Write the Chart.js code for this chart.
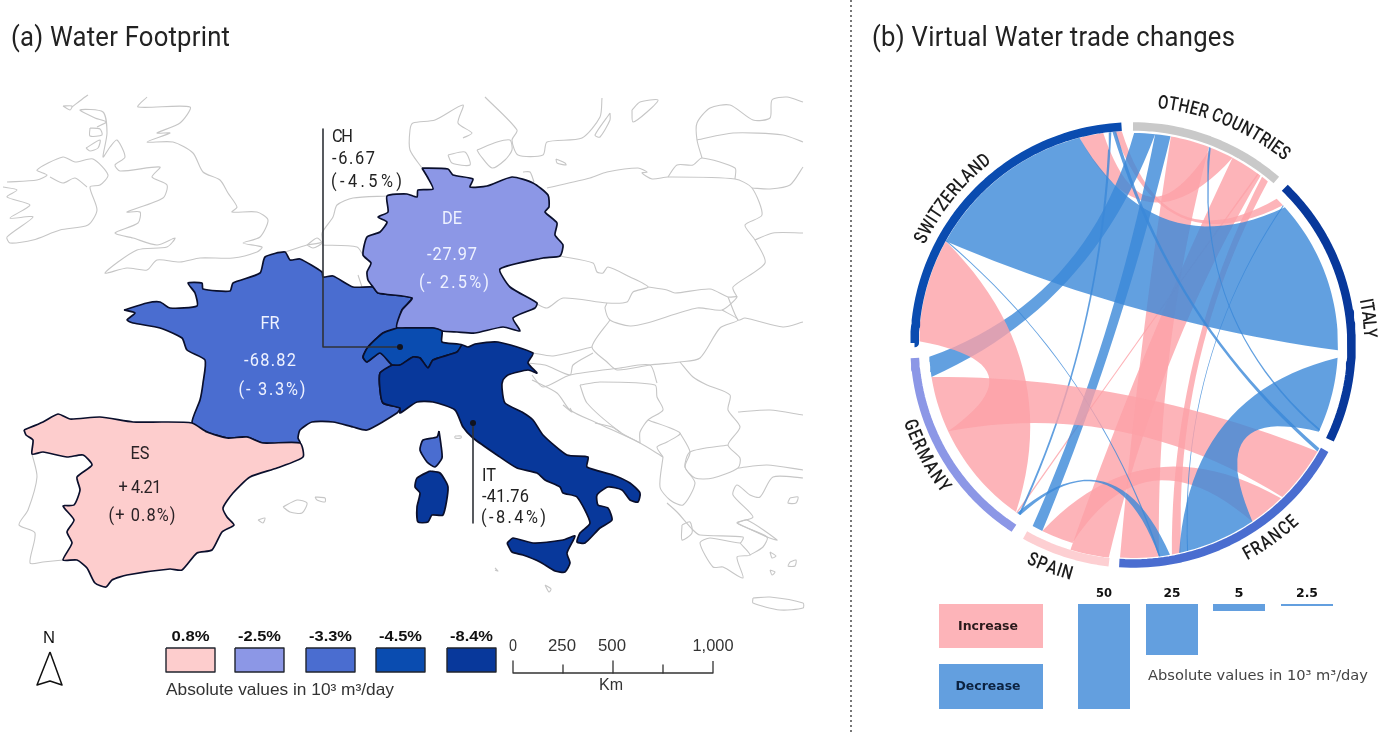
<!DOCTYPE html>
<html><head><meta charset="utf-8">
<style>html,body{margin:0;padding:0;background:#fff;overflow:hidden}canvas{display:block}</style>
<script src="https://cdn.jsdelivr.net/npm/chart.js@4"></script></head>
<body><canvas id="c" width="1379" height="733"></canvas>
<script>
// ---------- map data (outlines in the map's own plane) ----------
const france=[[124,310],[147,303],[160,302],[170,308],[197,306],[195,293],[188,283],[202,283],[203,289],[230,291],[233,283],[260,273],[265,257],[285,252],[290,260],[300,259],[322,272],[323,277],[333,276],[353,287],[373,287],[378,293],[412,298],[402,310],[397,328],[383,333],[368,347],[363,357],[367,362],[380,353],[392,365],[380,373],[380,390],[383,403],[400,408],[397,413],[367,430],[353,427],[333,422],[312,422],[300,430],[298,438],[300,443],[263,443],[247,437],[227,438],[207,432],[192,423],[200,400],[203,383],[205,360],[187,350],[182,338],[160,328],[133,323],[127,320],[135,313],[124,310]];
const corsica=[[439,431],[441,445],[442,458],[435,467],[427,462],[420,450],[423,440],[437,437],[439,431]];
const germany=[[422,168],[448,169],[453,175],[473,179],[470,187],[487,186],[512,177],[533,183],[548,195],[549,207],[545,212],[557,223],[555,235],[563,245],[560,256],[543,258],[500,269],[510,287],[537,303],[535,308],[513,318],[520,331],[503,327],[475,333],[457,332],[442,331],[433,328],[397,328],[402,310],[412,298],[378,293],[373,287],[368,280],[367,272],[371,263],[363,255],[367,237],[380,232],[387,222],[378,217],[388,212],[387,196],[407,194],[417,197],[418,190],[433,189],[428,178],[422,168]];
const switzerland=[[397,328],[433,328],[442,331],[442,342],[462,345],[457,352],[433,360],[428,368],[420,358],[413,357],[400,365],[392,365],[380,353],[367,362],[363,357],[368,347],[383,333],[397,328]];
const italy=[[392,365],[380,373],[380,390],[383,403],[400,408],[400,413],[417,402],[433,402],[455,410],[463,427],[473,438],[497,455],[517,468],[537,473],[545,480],[560,487],[563,493],[577,497],[590,523],[580,533],[577,542],[585,543],[600,528],[612,520],[608,508],[598,505],[597,495],[608,487],[622,490],[630,500],[638,502],[640,493],[630,483],[613,475],[587,467],[588,457],[567,455],[543,435],[533,420],[522,412],[505,403],[502,388],[503,380],[508,375],[528,370],[537,373],[528,363],[533,353],[498,342],[475,344],[468,347],[462,345],[457,352],[433,360],[428,368],[420,358],[413,357],[400,365],[392,365]];
const sardinia=[[430,471],[440,473],[448,487],[443,515],[432,515],[428,522],[418,522],[417,507],[420,493],[415,487],[417,478],[430,471]];
const sicily=[[507,543],[513,538],[533,543],[563,540],[575,536],[567,553],[570,563],[565,572],[555,571],[540,562],[523,555],[512,552],[507,543]];
const spain=[[24,430],[43,422],[58,414],[70,419],[100,417],[133,422],[163,422],[192,423],[207,432],[227,438],[247,437],[263,443],[300,443],[303,457],[277,468],[250,477],[233,493],[223,508],[227,517],[234,525],[222,532],[212,550],[197,553],[182,570],[170,569],[127,575],[112,580],[106,587],[95,583],[87,568],[77,560],[63,560],[72,543],[67,532],[74,520],[63,506],[74,505],[80,490],[77,477],[92,465],[83,455],[67,457],[43,452],[32,454],[33,440],[26,435],[24,430]];

const greatBritain=[[147,97],[138,107],[190,107],[180,123],[157,133],[170,133],[147,142],[173,142],[193,153],[203,172],[220,180],[228,193],[237,207],[232,212],[257,212],[268,220],[260,237],[243,243],[262,247],[257,252],[233,258],[200,258],[180,262],[157,260],[147,270],[127,268],[105,273],[137,250],[167,247],[175,238],[157,245],[133,238],[115,233],[138,223],[140,212],[127,212],[163,198],[167,185],[152,177],[160,167],[120,171],[115,165],[125,157],[117,140],[110,147],[103,157],[107,133],[103,112],[80,110],[95,118],[106,122],[97,127]];
const ireland=[[7,182],[37,180],[47,175],[37,170],[63,157],[75,162],[93,159],[108,175],[100,185],[90,187],[97,210],[88,225],[60,230],[33,240],[10,243],[7,237],[33,217],[10,218],[30,205],[7,197],[17,190],[3,187]];
const ulster=[[50,177],[63,183],[75,178],[87,187]];
const hebrides1=[[72,107],[85,97],[88,95]];
const hebrides2=[[63,106],[72,106],[70,110],[63,106]];
const hebrides3=[[90,128],[100,129],[102,135],[90,136],[90,128]];
const hebrides4=[[86,148],[100,140],[98,148],[90,151],[86,148]];
const portugal=[[32,454],[37,477],[28,510],[19,525],[35,533],[30,563],[43,562],[63,560]];
const mallorca=[[283,507],[297,500],[307,503],[302,513],[290,512],[283,507]];
const menorca=[[315,497],[325,498],[325,502],[317,500],[315,497]];
const ibiza=[[258,520],[265,518],[263,523],[258,520]];
const beneluxCoast=[[285,252],[307,245],[322,242],[322,233],[333,217],[337,205],[353,198],[387,196]];
const beneluxBorder=[[322,245],[357,247],[363,255]];
const luxembourg=[[358,275],[362,287]];
const zeeland=[[307,245],[317,238],[322,243],[313,248],[307,245]];
const jutland=[[422,168],[410,150],[410,130],[413,123],[435,120],[463,105],[458,123],[472,133],[463,138]];
const funen=[[448,155],[465,152],[470,165],[452,163],[448,155]];
const zealand=[[477,150],[497,142],[510,140],[512,150],[505,160],[492,168],[480,155],[477,150]];
const sweden=[[485,97],[517,130],[512,140],[518,155],[543,155],[547,142],[582,138],[600,117],[602,98]];
const gotland=[[610,113],[595,135],[600,137],[610,120],[610,113]];
const saaremaa=[[632,110],[633,122],[647,112],[658,100],[640,102],[632,110]];
const bornholm=[[556,159],[565,163],[566,165],[557,163],[556,159]];
const rugen=[[523,172],[530,172],[534,182]];
const polandNorth=[[547,188],[590,178],[607,172],[638,168],[647,172],[642,173],[652,179],[668,177],[735,179],[752,188],[762,215],[745,225],[755,240],[765,263],[733,287],[737,297]];
const balticBorder=[[668,177],[677,165],[693,165],[702,158],[735,168],[735,179]];
const latvia=[[697,140],[733,133],[783,135],[803,142]];
const balticCoast=[[702,158],[697,140],[697,123],[710,108],[730,105],[753,120],[770,118],[772,100],[787,97],[803,102]];
const belarus=[[752,188],[770,189],[790,185],[803,167]];
const ukraine=[[755,240],[773,233],[803,233]];
const czechia=[[560,256],[593,263],[597,272],[603,273],[608,267],[630,277],[648,287],[633,292],[627,302],[607,303],[563,298],[547,308],[535,303]];
const slovakia=[[648,287],[667,290],[675,293],[710,289],[728,297],[737,297],[722,310],[697,308],[647,323],[630,326],[610,320],[605,308],[607,303]];
const hungary=[[610,320],[592,347],[607,362],[617,370],[650,365],[680,362],[700,358],[720,328],[738,320],[722,310]];
const austriaSouth=[[592,347],[553,356],[533,353]];
const romaniaNorth=[[728,297],[738,320],[745,318],[783,327],[803,322]];
const romaniaSouth=[[738,412],[770,410],[803,415]];
const slovenia=[[528,363],[545,365],[570,375],[573,365],[593,353]];
const croatia=[[532,375],[543,387],[570,375],[620,368],[650,365],[657,383]];
const adriatic=[[532,380],[557,393],[570,410],[597,423],[640,443],[663,457]];
const bosnia=[[580,385],[600,382],[655,385],[657,397],[663,410],[648,420],[640,432],[640,443]];
const bosniaWest=[[580,385],[587,403],[620,432],[640,443]];
const serbia=[[680,362],[693,377],[707,385],[730,395],[728,410],[740,427],[728,445],[740,458],[738,468],[713,478],[695,478],[685,467],[690,452],[728,445]];
const montenegro=[[648,420],[680,433],[667,442],[657,447],[663,457]];
const albania=[[663,457],[660,487],[670,500],[683,505],[695,483],[685,467],[690,452],[680,433]];
const greeceCoast=[[667,503],[677,512],[693,530],[700,535],[743,537],[740,543],[710,538],[700,543],[713,567],[723,567],[743,578],[737,557],[750,555],[740,543]];
const thrace=[[738,468],[767,465],[803,470]];
const aegean=[[803,478],[773,477],[760,497],[750,495],[737,485],[733,495],[753,517],[737,523],[767,537],[763,547],[750,555]];
const euboea=[[737,523],[747,520],[777,540],[767,537],[737,523]];
const crete=[[753,598],[770,597],[803,603],[803,608],[780,610],[753,603],[753,598]];
const dalmatia1=[[595,423],[612,427],[620,432]];
const dalmatia2=[[563,405],[572,412],[570,408]];
const cyclades1=[[770,552],[776,556],[772,558],[770,552]];
const cyclades2=[[790,562],[796,560],[795,566],[788,566],[790,562]];
const cyclades3=[[770,570],[775,572],[772,575],[770,570]];
const lesbos=[[790,498],[798,497],[796,503],[788,503],[790,498]];
const ionian=[[682,525],[690,522],[692,533],[682,540],[682,525]];
const elba=[[455,436],[461,436],[461,438],[455,438],[455,436]];
const lampedusa=[[545,585],[551,589],[549,592],[545,585]];
const ustica=[[495,568],[498,571],[495,570]];

const regionPolygons=[france,corsica,germany,switzerland,italy,sardinia,sicily,spain];
const regionPolygonColors=['#4a6dd0','#4a6dd0','#8c97e6','#0a4cb0','#08389b','#08389b','#08389b','#fdcdcd'];
const greyOutlines=[greatBritain,ireland,ulster,hebrides1,hebrides2,hebrides3,hebrides4,portugal,mallorca,menorca,ibiza,beneluxCoast,beneluxBorder,luxembourg,zeeland,jutland,funen,zealand,sweden,gotland,saaremaa,bornholm,rugen,polandNorth,balticBorder,latvia,balticCoast,belarus,ukraine,czechia,slovakia,hungary,austriaSouth,romaniaNorth,romaniaSouth,slovenia,croatia,adriatic,bosnia,bosniaWest,serbia,montenegro,albania,greeceCoast,thrace,aegean,euboea,crete,dalmatia1,dalmatia2,cyclades1,cyclades2,cyclades3,lesbos,ionian,elba,lampedusa,ustica];

// ---------- map labels ----------
const regionCodes=['FR','DE','ES','CH','IT'];
const regionValues=['-68.82','-27.97','+ 4.21','-6.67','-41.76'];
const regionPercents=['(- 3.3%)','(- 2.5%)','(+ 0.8%)','(-4.5%)','(-8.4%)'];
const legendPercents=['0.8%','-2.5%','-3.3%','-4.5%','-8.4%'];
const legendColors=['#fdcdcd','#8c97e6','#4a6dd0','#0a4cb0','#08389b'];
const scaleTicks=['0','250','500','1,000'];

// ---------- chord diagram ----------
const sectorNames=['SWITZERLAND','OTHER COUNTRIES','ITALY','FRANCE','SPAIN','GERMANY'];
const sectorStart=[270.5,0,44,118.7,186.3,213];
const sectorEnd=[357,41,115.7,183.6,209.6,266.6];
const sectorColors=['#0a4cb0','#c9c9c9','#08389b','#4a6dd0','#fdcfd2','#8c97e6'];
const CH=0,OT=1,IT=2,FR=3,ES=4,DE=5;
// [sector, startDeg, endDeg, sector, startDeg, endDeg]
const increaseFlowsBase=[[OT,10.3,21,FR,173,183.5],[OT,28,37,ES,186.5,197,214],[CH,345.5,352,OT,21.5,28],[CH,355,357,IT,44.5,47],[OT,37.5,39.5,FR,167,169.5],[OT,36,36.4,DE,214.5,214.9],[FR,136,146,ES,197,206]];
const decreaseFlowsThin=[[DE,261,266.7,OT,0.3,6],[OT,6,10.2,ES,206,209],[CH,353.5,354.2,DE,213.5,214.1],[CH,354.5,355.5,FR,119,120],[FR,170,173,DE,213.5,214.6],[CH,299,299.3,FR,172.6,173],[OT,21,21.5,IT,114.2,114.8],[IT,47,47.3,FR,165,165.3]];
const increaseFlowsWide=[[CH,271,299,DE,215,245],[FR,120,135.5,DE,245,261]];
const decreaseFlowsWide=[[CH,299,345.5,IT,47.8,91.5],[IT,93.6,115,FR,145.9,167.5]];
const legendFlowValues=['50','25','5','2.5'];
const legendFlowHeights=[105,51,7,2];

// ---------- layout ----------
const CX=1133,CY=345,RING_R=218.5;
const ribbonR=[214,212,205,213,207,204];
const COL_INC='rgba(252,161,167,0.8)',COL_DEC='rgba(59,136,216,0.8)';
const pt=(deg,r)=>{const a=deg*Math.PI/180;return {x:CX+r*Math.sin(a),y:CY-r*Math.cos(a)};};
function arcPts(d1,d2,r){const n=Math.max(2,Math.ceil(Math.abs(d2-d1)/1.5));const o=[];for(let i=0;i<=n;i++)o.push(pt(d1+(d2-d1)*i/n,r));return o;}
function bez(d1,r1,d2,r2){
  let diff=((d2-d1)%360+540)%360-180;
  const k=0.45*Math.cos(Math.abs(diff)/2*Math.PI/180),R=(r1+r2)/2;
  const c=pt(d1+diff/2,k*R),p=pt(d1,r1),q=pt(d2,r2),o=[];
  for(let i=1;i<24;i++){const t=i/24,u=1-t;o.push({x:u*u*p.x+2*u*t*c.x+t*t*q.x,y:u*u*p.y+2*u*t*c.y+t*t*q.y});}
  return o;
}
function ribbon(f){
  const [s,a1,a2,d,b1,b2,rOver]=f,r1=ribbonR[s],r2=rOver||ribbonR[d];
  return [...arcPts(a1,a2,r1),...bez(a2,r1,b1,r2),...arcPts(b1,b2,r2),...bez(b2,r2,a1,r1),pt(a1,r1)];
}
const asPts=a=>a.map(p=>({x:p[0],y:p[1]}));
const rect=(x0,y0,x1,y1)=>[{x:x0,y:y0},{x:x1,y:y0},{x:x1,y:y1},{x:x0,y:y1},{x:x0,y:y0}];
const shape=(data,polyFill,borderColor,borderWidth,tension=0)=>({type:'scatter',data,showLine:true,polyFill,borderColor,borderWidth,tension,pointRadius:0,borderCapStyle:'butt',borderJoinStyle:'round'});

const datasets=[];
greyOutlines.forEach(o=>datasets.push(shape(asPts(o),null,'#c6c6c6',1.1,0.25)));
regionPolygons.forEach((o,i)=>datasets.push(shape(asPts(o),regionPolygonColors[i],'#0a0f2c',1.7,0.2)));
// leader lines
datasets.push(shape(asPts([[323,129],[323,347],[400,347]]),null,'#2f3238',1.6));
datasets.push(shape(asPts([[473,423],[473,523]]),null,'#2f3238',1.6));
datasets.push({type:'scatter',data:asPts([[400,347],[473,423]]),pointRadius:3,pointBackgroundColor:'#10131f',pointBorderWidth:0,showLine:false});
// north arrow
datasets.push(shape(asPts([[50,652],[37,685],[50,681],[62,685],[50,652]]),'#ffffff','#111',1.5));
// colour legend
const swatchX=[166,235,306,376,447];
legendColors.forEach((c,i)=>datasets.push(shape(rect(swatchX[i],648,swatchX[i]+49,672),c,'#20242e',1.4)));
// scale bar
datasets.push(shape(asPts([[513,661],[513,673],[713,673],[713,661]]),null,'#333',1.3));
[563,613,663].forEach((x,i)=>datasets.push(shape(asPts([[x,i==1?661:665],[x,673]]),null,'#333',1.3)));
// dotted divider
datasets.push({...shape(asPts([[851,0],[851,733]]),null,'#555',1.6),borderDash:[2,3]});
// chord ribbons
increaseFlowsBase.forEach(f=>datasets.push(shape(ribbon(f),COL_INC,'transparent',0)));
decreaseFlowsThin.forEach(f=>datasets.push(shape(ribbon(f),COL_DEC,'transparent',0)));
increaseFlowsWide.forEach(f=>datasets.push(shape(ribbon(f),COL_INC,'transparent',0)));
decreaseFlowsWide.forEach(f=>datasets.push(shape(ribbon(f),COL_DEC,'transparent',0)));
// chord sectors
sectorNames.forEach((n,i)=>datasets.push(shape(arcPts(sectorStart[i],sectorEnd[i],RING_R),null,sectorColors[i],8.5)));
// flow legend
datasets.push(shape(rect(939,604,1043,648),'#fdb4b9','transparent',0));
datasets.push(shape(rect(939,664,1043,709),'#639fdf','transparent',0));
const flowBarX=[1078,1146,1213,1281];
legendFlowHeights.forEach((h,i)=>datasets.push(shape(rect(flowBarX[i],604,flowBarX[i]+52,604+h),'#639fdf','transparent',0)));
datasets.reverse(); // the library paints the last dataset first

const DIN='Roboto, "Liberation Sans", sans-serif',ARIAL='"Liberation Sans", Arial, sans-serif',DJV='"DejaVu Sans", sans-serif';
const polyFill={id:'polyFill',beforeDatasetDraw(chart,{index,meta}){
  const ds=chart.data.datasets[index];if(!ds.polyFill)return;
  const line=meta.dataset,c=chart.ctx;
  line.updateControlPoints(chart.chartArea,'x');
  c.save();c.beginPath();line.path(c);c.closePath();c.fillStyle=ds.polyFill;c.fill();c.restore();
}};
const labels={id:'labels',afterDatasetsDraw(chart){
  const c=chart.ctx,X=v=>chart.scales.x.getPixelForValue(v),Y=v=>chart.scales.y.getPixelForValue(v);
  function T(t,x,y,w,size,font,col,weight){
    c.save();c.font=`${weight||400} ${size}px ${font}`;c.fillStyle=col;c.textBaseline='middle';c.textAlign='left';
    const m=c.measureText(t).width,sx=w?w/m:1;
    c.translate(X(x),Y(y));c.scale(sx,1);c.fillText(t,0,0);c.restore();
  }
  // narrow face with tracking: reaches the width by letter spacing
  function D(t,x,y,w,size,col,nar=0.86,weight=400){
    c.save();c.font=`${weight} ${size}px ${DIN}`;c.fillStyle=col;c.textBaseline='middle';c.textAlign='left';
    const m=c.measureText(t).width;
    c.letterSpacing=((w/nar-m)/Math.max(1,t.length-1)).toFixed(2)+'px';
    c.translate(X(x),Y(y));c.scale(nar,1);c.fillText(t,0,0);c.restore();
  }
  const C=(t,x,y,w,size,font,col,weight)=>T(t,x-w/2,y,w,size,font,col,weight);
  const DC=(t,x,y,w,size,col)=>D(t,x-w/2,y,w,size,col);
  D('(a) Water Footprint',11,39,219,27,'#222',0.95);
  D('(b) Virtual Water trade changes',872,39,363,27,'#222',0.95);
  const cx=[270,452,140],yr=[[324,361,390],[219,255,283],[454,488,516]],w=[[19,52,67],[20,50,70],[19,43,67]],col=['#eef2ff','#eef2ff','#2a2226'];
  for(let i=0;i<3;i++){
    DC(regionCodes[i],cx[i],yr[i][0],w[i][0],19,col[i]);
    DC(regionValues[i],cx[i],yr[i][1],w[i][1],19,col[i]);
    DC(regionPercents[i],cx[i]+2,yr[i][2],w[i][2],19,col[i]);
  }
  D(regionCodes[3],332,137,21,19,'#222');D(regionValues[3],332,159,43,19,'#222');D(regionPercents[3],331,182,71,19,'#222');
  D(regionCodes[4],482,476,14,19,'#222');D(regionValues[4],482,497,47,19,'#222');D(regionPercents[4],481,518,65,19,'#222');
  C('N',49,638,12,17,ARIAL,'#111');
  legendPercents.forEach((t,i)=>C(t,swatchX[i]+24.5,637,i?43:38,15.5,ARIAL,'#111',700));
  T('Absolute values in 10³ m³/day',166,690,228,16.5,ARIAL,'#333');
  const sx=[513,562,612,713],sw=[8,28,28,41];
  scaleTicks.forEach((t,i)=>C(t,sx[i],647,sw[i],16,ARIAL,'#333'));
  C('Km',611,686,24,16,ARIAL,'#333');
  C('Increase',988,627,60,13,DJV,'#2a1a1c',700);
  C('Decrease',988,687,65,13,DJV,'#0c2240',700);
  const lx=[1104,1172,1239,1307],lw=[16,17,9,22];
  legendFlowValues.forEach((t,i)=>C(t,lx[i],594,lw[i],12,DJV,'#111',700));
  T('Absolute values in 10³ m³/day',1148,676,220,14,DJV,'#444');
  // sector names set along the ring
  const mid=[309,22.6,83.5,144.5,200.5,241.8],span=[26.8,33.6,9.4,15.4,11.5,19.6],rad=[236,243,236,239,238,237],flip=[0,0,0,1,1,1];
  sectorNames.forEach((name,i)=>{
    c.save();c.font=`500 19px ${DIN}`;c.fillStyle='#1c1c1c';c.textAlign='center';c.textBaseline='middle';
    const wd=[...name].map(ch=>c.measureText(ch).width),tot=wd.reduce((a,b)=>a+b,0);
    const sc=span[i]/tot,dir=flip[i]?-1:1;let run=0;
    [...name].forEach((ch,j)=>{
      const off=(run+wd[j]/2)*sc-span[i]/2;run+=wd[j];
      const deg=mid[i]+dir*off,p=pt(deg,rad[i]);
      c.save();c.translate(X(p.x),Y(p.y));c.rotate((flip[i]?deg+180:deg)*Math.PI/180);
      c.scale(0.8,1);c.fillText(ch,0,0);c.restore();
    });
    c.restore();
  });
}};
new Chart(document.getElementById('c'),{
  type:'scatter',data:{datasets},plugins:[polyFill,labels],
  options:{responsive:false,animation:false,events:[],devicePixelRatio:1,layout:{padding:0,autoPadding:false},
    plugins:{legend:{display:false},tooltip:{enabled:false},title:{display:false}},
    scales:{x:{type:'linear',min:0,max:1379,display:false},y:{type:'linear',min:0,max:733,reverse:true,display:false}},
    elements:{line:{fill:false}}}
});
</script></body></html>
